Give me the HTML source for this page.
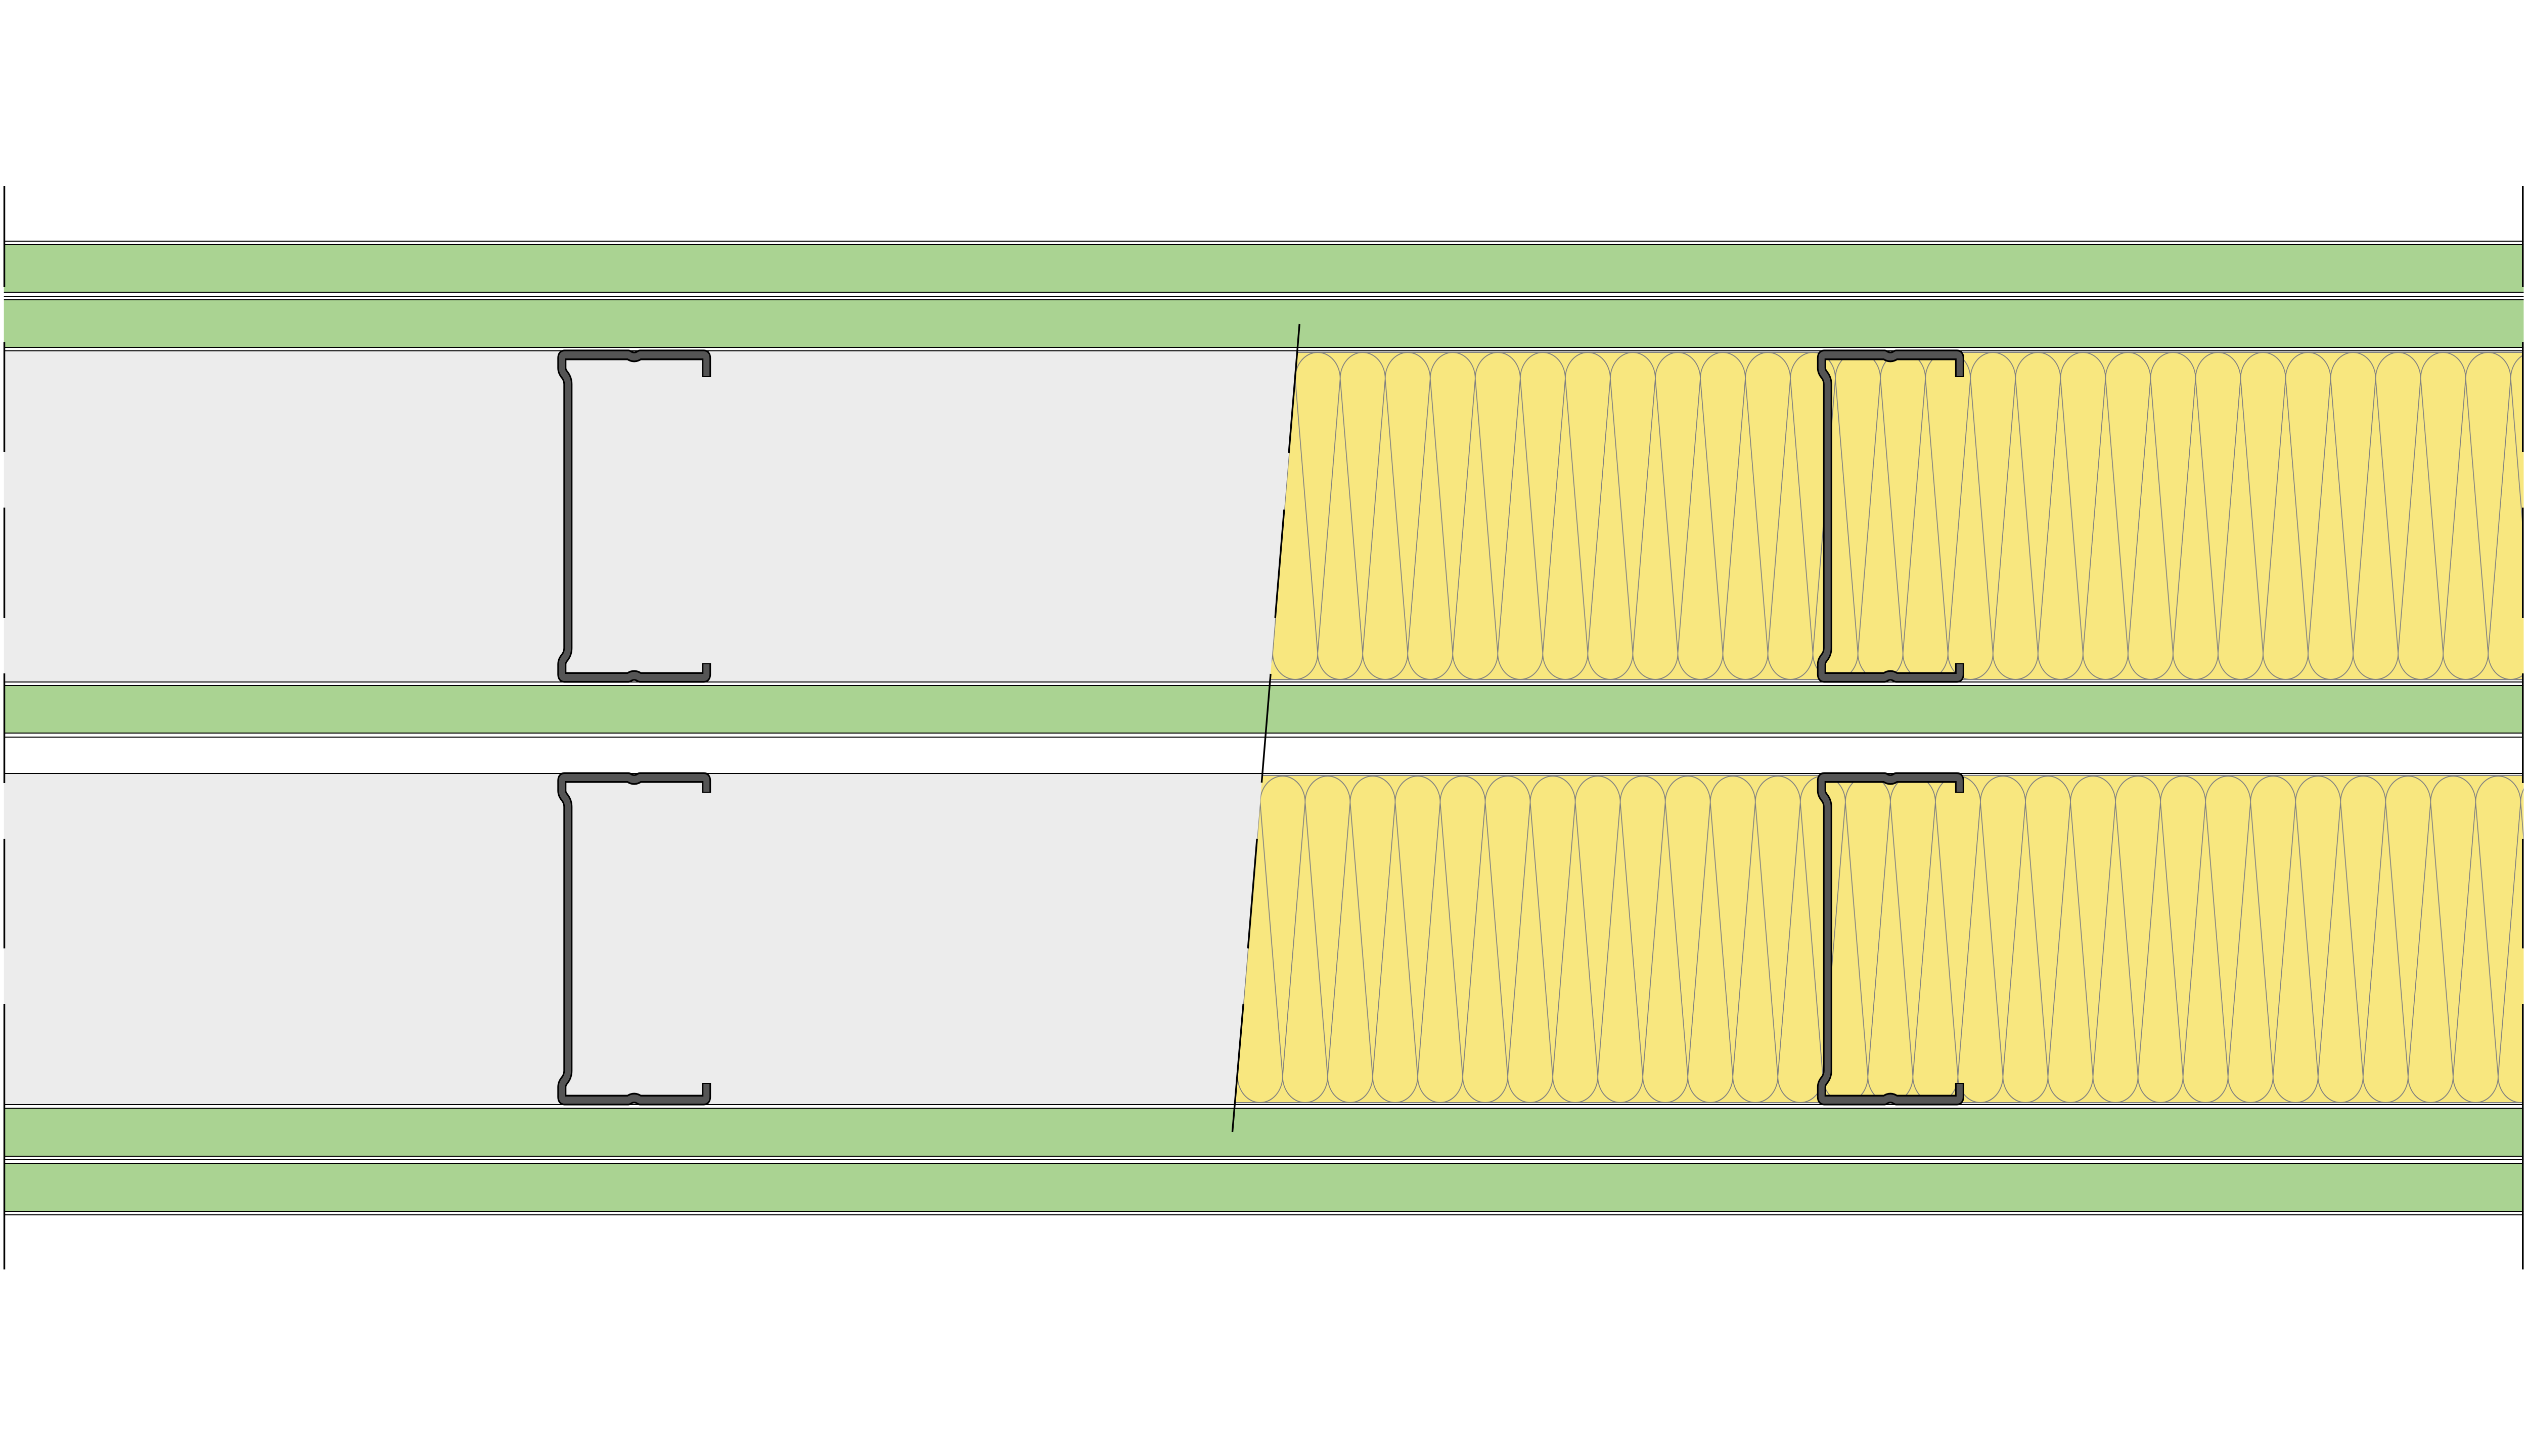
<!DOCTYPE html>
<html><head><meta charset="utf-8"><style>html,body{margin:0;padding:0;background:#fff;width:100%;height:100%;overflow:hidden}svg{display:block;position:absolute;left:0;top:0;width:100vw;height:100vh}</style></head>
<body>
<svg viewBox="0 0 5840 2880" preserveAspectRatio="none" xmlns="http://www.w3.org/2000/svg">
<defs>
<pattern id="insA" patternUnits="userSpaceOnUse" x="2992" y="695" width="104" height="653">
<rect width="104" height="653" fill="#f8e77f"/>
<g fill="none" stroke="#808080" stroke-width="2">
<path d="M0,54 A52,52 0 0 1 104,54"/>
<path d="M0,649 A52,52 0 0 0 52,597 M52,597 A52,52 0 0 0 104,649"/>
<path d="M0,54 L52,597 L104,54"/>
</g>
</pattern>
<pattern id="insB" patternUnits="userSpaceOnUse" x="2911" y="1531" width="104" height="653">
<rect width="104" height="653" fill="#f8e77f"/>
<g fill="none" stroke="#808080" stroke-width="2">
<path d="M0,56 A52,52 0 0 1 104,56"/>
<path d="M0,650 A52,52 0 0 0 52,598 M52,598 A52,52 0 0 0 104,650"/>
<path d="M0,56 L52,598 L104,56"/>
</g>
</pattern>
</defs>
<g fill="#aad392">
<rect x="9" y="484" width="5821" height="93"/>
<rect x="9" y="593" width="5821" height="93"/>
<rect x="9" y="1357" width="5821" height="92"/>
<rect x="9" y="2193" width="5821" height="93"/>
<rect x="9" y="2302" width="5821" height="93"/>
</g>
<rect x="9" y="695" width="5821" height="653" fill="#ececec"/>
<rect x="9" y="1531" width="5821" height="653" fill="#ececec"/>
<polygon points="2997,697 5830,697 5830,1345 2934,1345" fill="url(#insA)"/>
<polygon points="2916,1535 5830,1535 5830,2181 2853,2181" fill="url(#insB)"/>
<g fill="#808080">
<rect x="2997" y="696" width="2833" height="2"/>
<rect x="2934" y="1343" width="2896" height="2"/>
<rect x="2916" y="1533" width="2914" height="2"/>
<rect x="2853" y="2180" width="2977" height="2"/>
</g>
<g fill="#000">
<rect x="9" y="476" width="5821" height="2"/>
<rect x="9" y="483" width="5821" height="2"/>
<rect x="9" y="577" width="5821" height="2"/>
<rect x="9" y="585" width="5821" height="2"/>
<rect x="9" y="592" width="5821" height="2"/>
<rect x="9" y="686" width="5821" height="2"/>
<rect x="9" y="693" width="5821" height="2"/>
<rect x="9" y="1348" width="5821" height="2"/>
<rect x="9" y="1355" width="5821" height="2"/>
<rect x="9" y="1449" width="5821" height="2"/>
<rect x="9" y="1457" width="5821" height="2"/>
<rect x="9" y="1529" width="5821" height="2"/>
<rect x="9" y="2184" width="5821" height="2"/>
<rect x="9" y="2191" width="5821" height="2"/>
<rect x="9" y="2286" width="5821" height="2"/>
<rect x="9" y="2293" width="5821" height="2"/>
<rect x="9" y="2300" width="5821" height="2"/>
<rect x="9" y="2395" width="5821" height="2"/>
<rect x="9" y="2402" width="5821" height="2"/>
</g>
<g fill="none" stroke-linejoin="round" stroke-linecap="butt">
<g stroke="#000" stroke-width="21">
<path d="M1632,746 L1632,708 Q1632,702 1626,702 L1478,702 Q1465,710 1452,702 L1304,702 Q1298,702 1298,708 L1298,728 Q1298,735 1305,742 Q1312,750 1312,760 L1312,1282 Q1312,1292 1305,1300 Q1298,1307 1298,1314 L1298,1334 Q1298,1340 1304,1340 L1452,1340 Q1465,1332 1478,1340 L1626,1340 Q1632,1340 1632,1334 L1632,1312"/>
<path d="M4527,746 L4527,708 Q4527,702 4521,702 L4380,702 Q4367,710 4354,702 L4214,702 Q4208,702 4208,708 L4208,728 Q4208,735 4215,742 Q4222,750 4222,760 L4222,1282 Q4222,1292 4215,1300 Q4208,1307 4208,1314 L4208,1334 Q4208,1340 4214,1340 L4354,1340 Q4367,1332 4380,1340 L4521,1340 Q4527,1340 4527,1334 L4527,1312"/>
<path d="M1632,1568 L1632,1544 Q1632,1538 1626,1538 L1478,1538 Q1465,1546 1452,1538 L1304,1538 Q1298,1538 1298,1544 L1298,1564 Q1298,1571 1305,1578 Q1312,1586 1312,1596 L1312,2118 Q1312,2128 1305,2136 Q1298,2143 1298,2150 L1298,2170 Q1298,2176 1304,2176 L1452,2176 Q1465,2168 1478,2176 L1626,2176 Q1632,2176 1632,2170 L1632,2142"/>
<path d="M4527,1568 L4527,1544 Q4527,1538 4521,1538 L4380,1538 Q4367,1546 4354,1538 L4214,1538 Q4208,1538 4208,1544 L4208,1564 Q4208,1571 4215,1578 Q4222,1586 4222,1596 L4222,2118 Q4222,2128 4215,2136 Q4208,2143 4208,2150 L4208,2170 Q4208,2176 4214,2176 L4354,2176 Q4367,2168 4380,2176 L4521,2176 Q4527,2176 4527,2170 L4527,2142"/>
</g>
<g stroke="#555" stroke-width="14">
<path d="M1632,744 L1632,708 Q1632,702 1626,702 L1478,702 Q1465,710 1452,702 L1304,702 Q1298,702 1298,708 L1298,728 Q1298,735 1305,742 Q1312,750 1312,760 L1312,1282 Q1312,1292 1305,1300 Q1298,1307 1298,1314 L1298,1334 Q1298,1340 1304,1340 L1452,1340 Q1465,1332 1478,1340 L1626,1340 Q1632,1340 1632,1334 L1632,1314"/>
<path d="M4527,744 L4527,708 Q4527,702 4521,702 L4380,702 Q4367,710 4354,702 L4214,702 Q4208,702 4208,708 L4208,728 Q4208,735 4215,742 Q4222,750 4222,760 L4222,1282 Q4222,1292 4215,1300 Q4208,1307 4208,1314 L4208,1334 Q4208,1340 4214,1340 L4354,1340 Q4367,1332 4380,1340 L4521,1340 Q4527,1340 4527,1334 L4527,1314"/>
<path d="M1632,1566 L1632,1544 Q1632,1538 1626,1538 L1478,1538 Q1465,1546 1452,1538 L1304,1538 Q1298,1538 1298,1544 L1298,1564 Q1298,1571 1305,1578 Q1312,1586 1312,1596 L1312,2118 Q1312,2128 1305,2136 Q1298,2143 1298,2150 L1298,2170 Q1298,2176 1304,2176 L1452,2176 Q1465,2168 1478,2176 L1626,2176 Q1632,2176 1632,2170 L1632,2144"/>
<path d="M4527,1566 L4527,1544 Q4527,1538 4521,1538 L4380,1538 Q4367,1546 4354,1538 L4214,1538 Q4208,1538 4208,1544 L4208,1564 Q4208,1571 4215,1578 Q4222,1586 4222,1596 L4222,2118 Q4222,2128 4215,2136 Q4208,2143 4208,2150 L4208,2170 Q4208,2176 4214,2176 L4354,2176 Q4367,2168 4380,2176 L4521,2176 Q4527,2176 4527,2170 L4527,2144"/>
</g>
</g>
<g fill="#000">
<rect x="8" y="368" width="4" height="200"/>
<rect x="8" y="677" width="4" height="217"/>
<rect x="8" y="1004" width="4" height="218"/>
<rect x="8" y="1332" width="4" height="217"/>
<rect x="8" y="1659" width="4" height="217"/>
<rect x="8" y="1986" width="4" height="525"/>
<rect x="5826" y="368" width="4" height="200"/>
<rect x="5826" y="677" width="4" height="217"/>
<rect x="5826" y="1004" width="4" height="218"/>
<rect x="5826" y="1332" width="4" height="217"/>
<rect x="5826" y="1659" width="4" height="217"/>
<rect x="5826" y="1986" width="4" height="525"/>
</g>
<g stroke="#000" stroke-width="4">
<line x1="3002" y1="641" x2="2977.4" y2="896"/>
<line x1="2966.6" y1="1008" x2="2945.9" y2="1222"/>
<line x1="2935.3" y1="1333" x2="2914.6" y2="1548"/>
<line x1="2903.9" y1="1659" x2="2883" y2="1876"/>
<line x1="2872.3" y1="1986" x2="2847" y2="2239"/>
</g>
</svg>
</body></html>
